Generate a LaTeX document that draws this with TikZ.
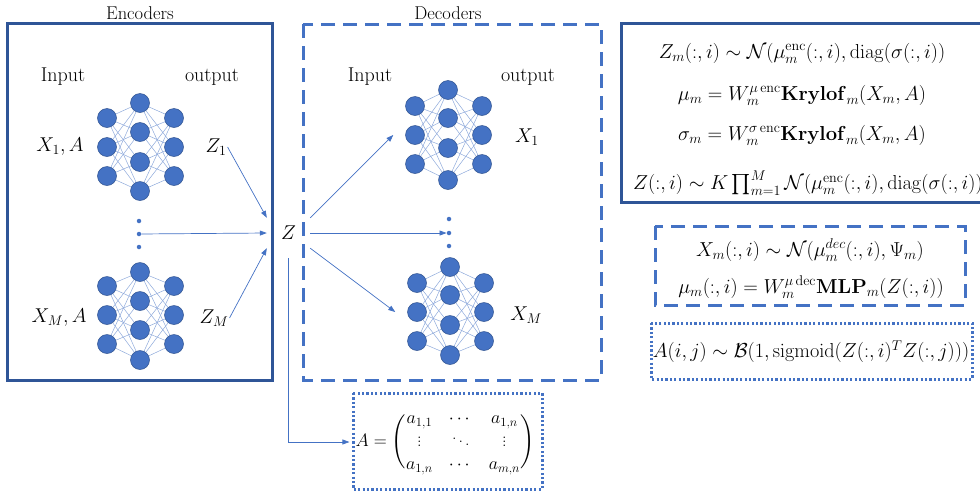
\RequirePackage{fix-cm}
\documentclass[tikz,border=0pt]{standalone}
\usepackage{amsmath,amssymb}
\usetikzlibrary{arrows.meta}
\definecolor{dkblue}{HTML}{2F5597}
\definecolor{mdblue}{HTML}{4472C4}
\definecolor{nrline}{HTML}{2F528F}
\definecolor{edgeblue}{HTML}{8EA9DB}
\tikzset{
  neuron/.style={circle,fill=mdblue,draw=nrline,line width=0.5pt,minimum size=19pt,inner sep=0pt},
  netedge/.style={draw=edgeblue,line width=0.5pt},
  ndot/.style={circle,fill=mdblue,minimum size=4.5pt,inner sep=0pt},
  lbl/.style={font=\fontsize{20}{24}\selectfont,inner sep=1pt},
  ttl/.style={font=\fontsize{18.5}{22}\selectfont,inner sep=1pt},
  frm/.style={font=\fontsize{20.2}{24}\selectfont,inner sep=1pt},
  conn/.style={draw=mdblue,line width=0.7pt,-{Triangle[length=7pt,width=5pt]}},
  solidbox/.style={draw=dkblue,line width=3pt},
  dashbox/.style={draw=mdblue,line width=3pt,dash pattern=on 14pt off 8pt},
  dotbox/.style={draw=mdblue,line width=3pt,dash pattern=on 2.2pt off 2.2pt}
}
\newcommand\nnet[5]{% prefix, x, y, mid offsets
  \foreach \i/\dy in {1/-29,2/0,3/29} {
    \node[neuron] (#1l\i) at ({#2-33},{#3+(\dy)}) {};
    \node[neuron] (#1r\i) at ({#2+34},{#3+(\dy)}) {};
  }
  \foreach \i/\dy in {#4} \node[neuron] (#1m\i) at ({#2},{#3+(\dy)}) {};
  \foreach \a in {1,2,3} \foreach \b in {1,2,3,4} {
    \draw[netedge] (#1l\a) -- (#1m\b);
    \draw[netedge] (#1m\b) -- (#1r\a);
  }
}
\begin{document}
\begin{tikzpicture}[x=1pt,y=-1pt]
\useasboundingbox (0,0) rectangle (980,496);
% boxes
\draw[solidbox] (7,23) rectangle (272,380);
\draw[dashbox] (303,24) rectangle (601,380);
\draw[solidbox] (621,23) rectangle (1000,202);
\draw[dashbox] (655,226) rectangle (965,305);
\draw[dotbox] (651,323) rectangle (972,379);
\draw[dotbox] (353,393) rectangle (542,489);
% titles
\node[ttl] (enct) at (140,13) {Encoders};
\node[ttl] (dect) at (448,13) {Decoders};
\node[lbl] (ein) at (63,77) {Input};
\node[lbl] (eout) at (212,77) {output};
\node[lbl] (din) at (370,77) {Input};
\node[lbl] (dout) at (528,77) {output};
% nets
\nnet{ea}{140}{147}{1/-44,2/-15,3/15,4/44}{}
\nnet{eb}{140}{315}{1/-43,2/-14,3/15,4/45}{}
\nnet{da}{448}{135}{1/-45,2/-17,3/13,4/45}{}
\nnet{db}{450}{312}{1/-45,2/-17,3/13,4/43}{}
% dots
\node[ndot] (ed1) at (139,221) {};
\node[ndot] (ed2) at (139,234) {};
\node[ndot] (ed3) at (139,247) {};
\node[ndot] (dd1) at (449,219) {};
\node[ndot] (dd2) at (449,233) {};
\node[ndot] (dd3) at (449,246) {};
% labels
\node[lbl] (x1a) at (60,147) {$X_1,A$};
\node[lbl] (xma) at (59,318) {$X_M,A$};
\node[lbl] (z1) at (216,147) {$Z_1$};
\node[lbl] (zm) at (214,318) {$Z_M$};
\node[lbl] (dx1) at (527,137) {$X_1$};
\node[lbl] (dxm) at (526,315) {$X_M$};
\node[lbl,minimum width=43pt,minimum height=30pt] (Z) at (288.5,233) {$Z$};
% connectors
\draw[conn] (z1.east) -- (Z.north west);
\draw[conn] (ed2) -- (Z.west);
\draw[conn] (zm.east) -- (Z.south west);
\draw[conn] (Z.north east) -- ([xshift=-12pt]dal2.west);
\draw[conn] (Z.east) -- (dd2);
\draw[conn] (Z.south east) -- ([xshift=-12pt]dbl2.west);
% formulas
\node[frm] (f1) at (802,53) {$Z_m(:,i)\sim\mathcal{N}(\mu_m^{\mathrm{enc}}(:,i),\mathrm{diag}(\sigma(:,i))$};
\node[frm] (f2) at (802,95) {$\mu_m = W_m^{\mu\,\mathrm{enc}}\mathbf{Krylof}_m(X_m,A)$};
\node[frm] (f3) at (802,135) {$\sigma_m = W_m^{\sigma\,\mathrm{enc}}\mathbf{Krylof}_m(X_m,A)$};
\node[frm,anchor=west] (f4) at (632,183) {$Z(:,i)\sim K\prod_{m=1}^{M}\mathcal{N}(\mu_m^{\mathrm{enc}}(:,i),\mathrm{diag}(\sigma(:,i)))$};
\node[frm] (g1) at (810,250) {$X_m(:,i)\sim\mathcal{N}(\mu_m^{dec}(:,i),\Psi_m)$};
\node[frm] (g2) at (811,287) {$\mu_m(:,i) = W_m^{\mu\,\mathrm{dec}}\mathbf{MLP}_m(Z(:,i))$};
\node[frm] (h1) at (811,352) {$A(i,j)\sim\mathcal{B}(1,\mathrm{sigmoid}(Z(:,i)^TZ(:,j)))$};
\node[frm,font=\fontsize{18}{23}\selectfont,inner sep=0pt] (Abox) at (445,442) {\delimiterfactor=700 \delimitershortfall=20pt $A=\setlength{\arraycolsep}{8pt}\begin{pmatrix} a_{1,1} & \cdots & a_{1,n}\\ \vdots & \ddots & \vdots\\ a_{1,n} & \cdots & a_{m,n}\end{pmatrix}$};
\draw[conn] (Z.south) ++(0,10) |- ([xshift=-6pt]Abox.west);
\end{tikzpicture}
\end{document}
